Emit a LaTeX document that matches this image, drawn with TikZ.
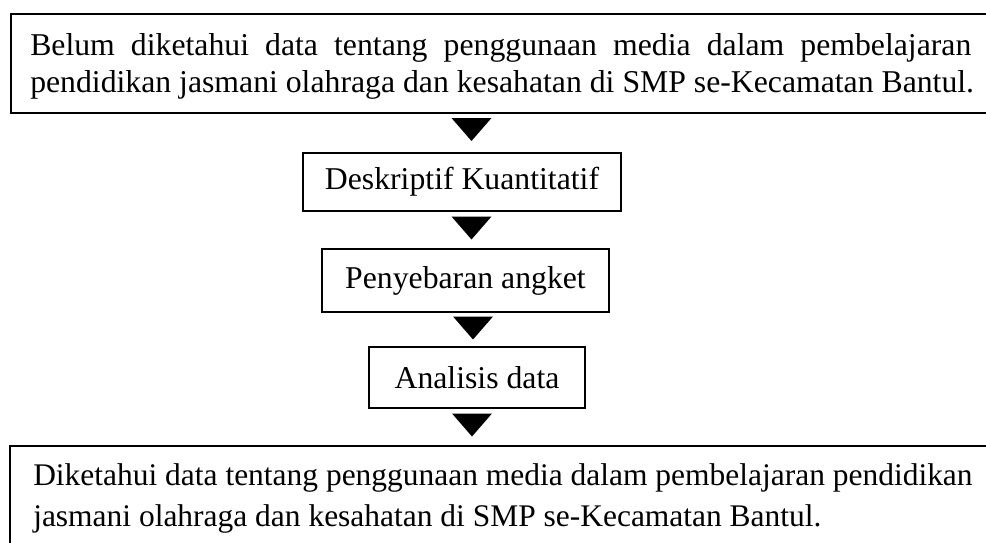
\documentclass[tikz,border=0pt]{standalone}
\usepackage{fontspec}
\setmainfont{Liberation Serif}
\begin{document}
\begin{tikzpicture}[x=0.75pt,y=-0.75pt,
  box/.style={draw=black, line width=1.5pt, fill=white, inner sep=0pt},
  txt/.style={inner sep=0pt, font=\fontsize{23.8}{27.75}\selectfont},
  btxt/.style={inner sep=0pt, font=\fontsize{23.6}{27.75}\selectfont},
  tri/.pic={\fill[black] (-20,0) -- (20,0) -- (0,23) -- cycle;}]
\useasboundingbox (0,0) rectangle (986,543);
\clip (0,0) rectangle (986,543);
\fill[white] (0,0) rectangle (986,543);

% top box
\node[box, anchor=north west, minimum width=742.5pt, minimum height=74.25pt] (topbox) at (10,13) {};
\node[txt, anchor=base west] (top1) at (30,55) {\makebox[705.75pt][s]{Belum diketahui data tentang penggunaan media dalam pembelajaran}};
\node[txt, anchor=base west] (top2) at (30,92) {pendidikan jasmani olahraga dan kesahatan di SMP se-Kecamatan Bantul.};

% middle boxes
\node[box, txt, minimum width=238.5pt, minimum height=43.5pt] (desk) at (462,182) {Deskriptif Kuantitatif};
\node[box, txt, minimum width=215.25pt, minimum height=47.25pt] (angket) at (465.5,280.5) {Penyebaran angket};
\node[box, txt, minimum width=162pt, minimum height=45.75pt] (analisis) at (477,377.5) {Analisis data};

% bottom box
\node[box, anchor=north west, minimum width=750pt, minimum height=90pt] (botbox) at (9,445) {};
\node[btxt, anchor=base west] (bot1) at (33,485) {Diketahui data tentang penggunaan media dalam pembelajaran pendidikan};
\node[btxt, anchor=base west] (bot2) at (33,526) {jasmani olahraga dan kesahatan di SMP se-Kecamatan Bantul.};

% arrowheads
\pic at (471.5,118) {tri};
\pic at (471.5,216.5) {tri};
\pic at (473,316.5) {tri};
\pic at (472,413.5) {tri};
\end{tikzpicture}
\end{document}
